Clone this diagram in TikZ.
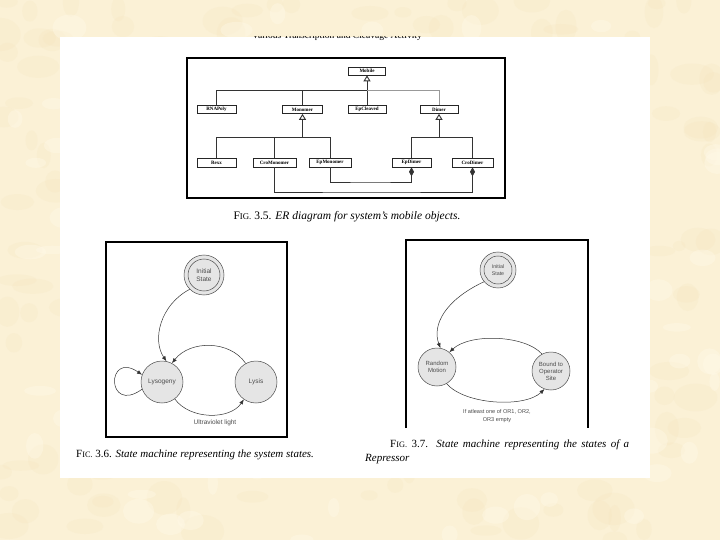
\documentclass[tikz,border=0pt]{standalone}
\usepackage{fontspec}
\setmainfont{Liberation Serif}
\newfontfamily\statefont{Liberation Sans}
\usetikzlibrary{arrows.meta}
\definecolor{parch}{RGB}{251,241,214}
\definecolor{blot}{RGB}{244,226,186}
\definecolor{blotl}{RGB}{255,249,232}
\definecolor{stfill}{RGB}{229,229,229}
\tikzset{
  erbox/.style={draw=black!85, line width=0.7pt, fill=white, minimum height=8pt, inner sep=0pt, font=\fontsize{5}{6}\selectfont\bfseries},
  erline/.style={draw=black!80, line width=0.9pt},
  erlight/.style={draw=black!40, line width=0.9pt},
  gen/.style={-{Triangle[fill=white,length=6pt,width=7pt]}},
  comp/.style={-{Diamond[length=9pt,width=5pt]}},
  frame/.style={draw=black, line width=1.8pt},
  state/.style={circle, draw=black!70, line width=0.5pt, fill=stfill, inner sep=0pt, font=\statefont\fontsize{6.5}{7.5}\selectfont, text=black!70, align=center},
  sarr/.style={-{Latex[length=5pt,width=4pt]}, draw=black!80, line width=0.5pt},
  slabel/.style={font=\statefont\fontsize{6.5}{7.5}\selectfont, text=black!70, align=center, inner sep=0pt},
  capt/.style={font=\fontsize{11}{12}\selectfont, inner sep=0pt}
}
\begin{document}
\begin{tikzpicture}[x=1pt,y=-1pt]
\useasboundingbox (0,0) rectangle (720,540);
% parchment background
\fill[parch] (0,0) rectangle (720,540);
\pgfmathsetseed{11}
\foreach \i in {1,...,260}{
  \pgfmathsetmacro{\cx}{720*rnd}
  \pgfmathsetmacro{\cy}{540*rnd}
  \pgfmathsetmacro{\rx}{6+16*rnd}
  \pgfmathsetmacro{\ry}{5+12*rnd}
  \fill[blot, opacity=0.2] (\cx,\cy) ellipse ({\rx} and {\ry});
}
\foreach \i in {1,...,120}{
  \pgfmathsetmacro{\cx}{720*rnd}
  \pgfmathsetmacro{\cy}{540*rnd}
  \pgfmathsetmacro{\rx}{5+12*rnd}
  \pgfmathsetmacro{\ry}{4+10*rnd}
  \fill[blotl, opacity=0.4] (\cx,\cy) ellipse ({\rx} and {\ry});
}
% white page
\fill[white] (60,37) rectangle (650,478);
% cut-off heading
\begin{scope}
\clip (60,36.5) rectangle (650,478);
\node[font=\fontsize{9.5}{11}\selectfont, inner sep=0pt, anchor=base] (head) at (337,38.5) {Various Transcription and Cleavage Activity};
\end{scope}

% ===== ER diagram =====
\draw[frame, fill=white] (187,58) rectangle (505,198);
\node[erbox, minimum width=37pt] (mobile) at (367,71) {Mobile};
\node[erbox, minimum width=39pt] (rna) at (216.5,109.5) {RNAPoly};
\node[erbox, minimum width=40pt] (mono) at (302.5,109.5) {Monomer};
\node[erbox, minimum width=38pt] (epc) at (367,109.5) {EpCleaved};
\node[erbox, minimum width=38pt] (dimer) at (439,109.5) {Dimer};
\node[erbox, minimum width=39pt, minimum height=9pt] (rexx) at (216.5,162.5) {Rexx};
\node[erbox, minimum width=43pt, minimum height=9pt] (cromono) at (274.5,162.5) {CroMonomer};
\node[erbox, minimum width=42pt, minimum height=9pt] (epmono) at (330,162.5) {EpMonomer};
\node[erbox, minimum width=39pt, minimum height=9pt] (epdimer) at (411.5,162.5) {EpDimer};
\node[erbox, minimum width=41pt, minimum height=9pt] (crodimer) at (472.5,162.5) {CroDimer};
\coordinate (bus1) at (367,90);
\coordinate (bus2) at (302.5,137);
\coordinate (bus3) at (439,137);
% level 1
\draw[erline, gen] (epc.north) -- (mobile.south);
\draw[erline] (rna.north) |- (bus1);
\draw[erline] (mono.north) -- (mono.north |- bus1);
\draw[erlight] (bus1) -| (dimer.north);
% level 2 under Monomer
\draw[erline, gen] (bus2) -- (mono.south);
\draw[erline] (rexx.north) |- (epmono.north |- bus2) -- (epmono.north);
\draw[erline] (cromono.north) -- (cromono.north |- bus2);
% level 2 under Dimer
\draw[erline, gen] (bus3) -- (dimer.south);
\draw[erline] (epdimer.north) |- (crodimer.north |- bus3) -- (crodimer.north);
% compositions
\coordinate (c1) at (370,182);
\coordinate (c2) at (370,192);
\draw[erline, comp] (epmono.south) |- (c1) -| (epdimer.south);
\draw[erline, comp] (cromono.south) |- (c2) -| (crodimer.south);
\node[capt, font=\fontsize{11.5}{13}\selectfont] (cap35) at (347,217) {F{\fontsize{8.8}{10}\selectfont IG.} 3.5. \textit{ER diagram for system’s mobile objects.}};

% ===== State machine 1 =====
\draw[frame, fill=white] (106,242) rectangle (287,437);
\node[state, minimum size=40pt] (i1) at (204,275) {};
\node[state, minimum size=32pt] (i1in) at (i1) {Initial\\State};
\node[state, minimum size=42pt] (lyso) at (162,382) {Lysogeny};
\node[state, minimum size=42pt] (lysis) at (256,382) {Lysis};
\draw[sarr] (i1.225) .. controls (160,305) and (152,340) .. (lyso.78);
\draw[sarr] (lysis.119) .. controls (230,340) and (190,340) .. (lyso.62);
\draw[sarr] (lyso.-53) .. controls (190,420) and (230,420) .. (lysis.235);
\draw[sarr] (lyso.200) .. controls (106,415) and (106,350) .. (lyso.160);
\node[slabel] (uv) at (215,423) {Ultraviolet light};
\node[capt, anchor=west] (cap36) at (76,455) {F{\fontsize{8.3}{10}\selectfont IC.} 3.6. \textit{State machine representing the system states.}};

% ===== State machine 2 =====
\fill[white] (406,240) rectangle (588,428);
\draw[frame] (406,428) -- (406,240) -- (588,240) -- (588,428);
\node[state, minimum size=36pt] (i2) at (498,270) {};
\node[state, minimum size=28pt, font=\statefont\fontsize{5.3}{6.3}\selectfont] (i2in) at (i2) {Initial\\State};
\node[state, minimum size=38pt, font=\statefont\fontsize{6}{7}\selectfont] (rand) at (437,367) {Random\\Motion};
\node[state, minimum size=38pt, font=\statefont\fontsize{6}{7}\selectfont] (bound) at (551,371) {Bound to\\Operator\\Site};
\draw[sarr] (i2.220) .. controls (445,300) and (432,325) .. (rand.80);
\draw[sarr] (bound.118) .. controls (525,335) and (470,333) .. (rand.50);
\draw[sarr] (rand.-60) .. controls (465,405) and (525,408) .. (bound.250);
\node[slabel, font=\statefont\fontsize{5.6}{8}\selectfont] (orl) at (497,416) {If atleast one of OR1, OR2,\\OR3 empty};
\node[capt, anchor=west] (cap37) at (390,445) {\makebox[239pt][s]{F{\fontsize{8.3}{10}\selectfont IG.} 3.7. \textit{State machine representing the states of a}}};
\node[capt, anchor=west] (cap37b) at (365,459) {\textit{Repressor}};
\end{tikzpicture}
\end{document}
